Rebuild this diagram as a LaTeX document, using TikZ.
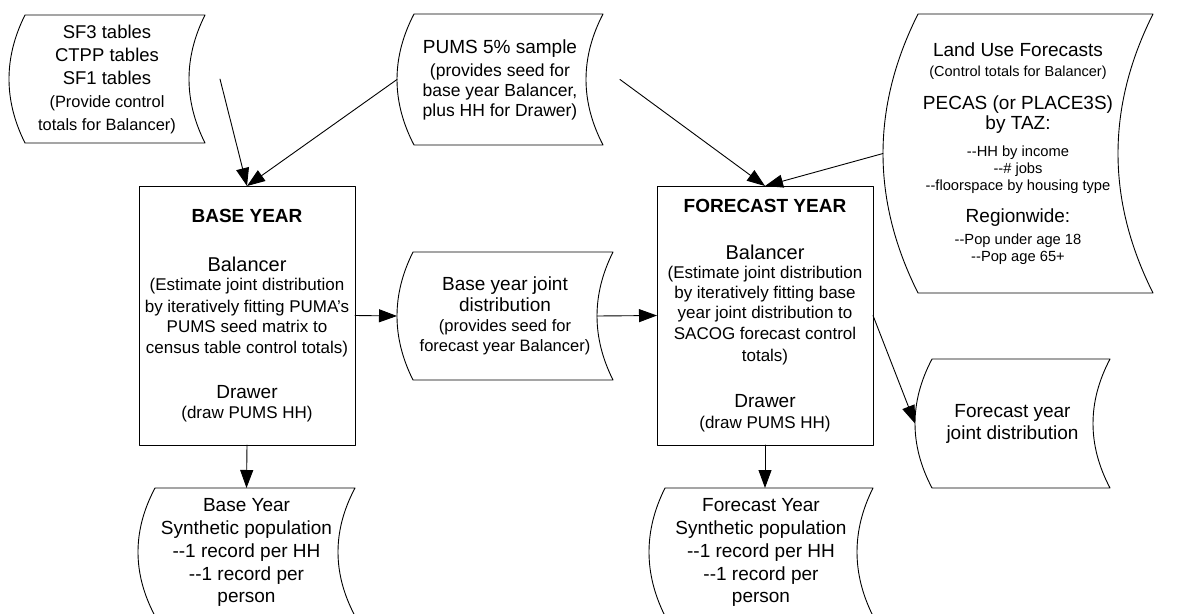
\documentclass[tikz,border=0pt]{standalone}
\usepackage{fontspec}
\usepackage{tikz}
\usetikzlibrary{calc}
\usetikzlibrary{arrows.meta}
\newfontfamily\arialfont{Liberation Sans}
\newcommand{\fs}[1]{\fontsize{#1}{0pt}\selectfont}
% stored data outline round a node: #1 node, #2 bulge of the arcs
\newcommand{\storeddata}[2]{%
  \draw ($(#1.north west)+(#2,0)$) -- (#1.north east)
    .. controls ($(#1.north east)!0.3333!(#1.south east)+(-1.3333*#2,0)$) and ($(#1.north east)!0.6667!(#1.south east)+(-1.3333*#2,0)$) .. (#1.south east)
    -- ($(#1.south west)+(#2,0)$)
    .. controls ($(#1.north west)!0.6667!(#1.south west)+(-0.3333*#2,0)$) and ($(#1.north west)!0.3333!(#1.south west)+(-0.3333*#2,0)$) .. cycle;}
\tikzset{
  every node/.style={font=\arialfont\fs{19}\lineskiplimit-100pt\relax},
  stored/.style={inner sep=0pt, outer sep=0pt, align=center},
  procbox/.style={draw, inner sep=0pt, outer sep=0pt, align=center, minimum width=216pt, minimum height=259pt}
}

\begin{document}
\begin{tikzpicture}[line cap=round,line join=round,>={Triangle[length=18pt,width=13pt]},x=1pt,y=-1pt,line width=0.9pt]
  \useasboundingbox (0,0) rectangle (1177,613);
  \clip (0,0) rectangle (1177,613);
  % sources
  \node[stored, minimum width=196pt, minimum height=128pt] (sf) at (107,79)
    {\fs{18.5}SF3 tables\\[23pt] \fs{18.5}CTPP tables\\[23pt] \fs{18.5}SF1 tables\\[23pt]
     \fs{16.4}(Provide control\\[23pt] \fs{16.4}totals for Balancer)};
  \node[stored, minimum width=206pt, minimum height=131pt] (pums) at (500,79.5)
    {PUMS 5\% sample\\[23pt] \fs{17.5}(provides seed for\\[20pt] \fs{17.5}base year Balancer,\\[20pt]
     \fs{17.5}plus HH for Drawer)};
  \node[stored, minimum width=270pt, minimum height=279pt] (landuse) at (1018,153.5)
    {Land Use Forecasts\\[20pt] \fs{14.5}(Control totals for Balancer)\\[33pt]
     PECAS (or PLACE3S)\\[20pt] by TAZ:\\[27pt]
     \fs{14.7}--HH by income\\[17pt] \fs{14.7}--\# jobs\\[17pt] \fs{14.7}--floorspace by housing type\\[32pt]
     Regionwide:\\[22pt] \fs{14.7}--Pop under age 18\\[17pt] \fs{14.7}--Pop age 65+};
  % processes
  \node[procbox] (base) at (247,315.5)
    {\bfseries BASE YEAR\\[49pt] \fs{20}Balancer\\[19pt] \fs{17}(Estimate joint distribution\\[22pt]
     \fs{17}by iteratively fitting PUMA’s\\[20pt] \fs{17}PUMS seed matrix to\\[21pt]
     \fs{17}census table control totals)\\[45pt] Drawer\\[20pt] \fs{17}(draw PUMS HH)};
  \node[procbox] (fcst) at (765,315.5)
    {\bfseries FORECAST YEAR\\[47pt] \fs{20}Balancer\\[19pt] \fs{17}(Estimate joint distribution\\[20pt]
     \fs{17}by iteratively fitting base\\[20pt] \fs{17}year joint distribution to\\[21pt]
     \fs{17}SACOG forecast control\\[22pt] \fs{17}totals)\\[46pt] Drawer\\[21pt] \fs{17}(draw PUMS HH)};
  % outputs
  \node[stored, minimum width=216pt, minimum height=128pt] (basejd) at (505,316)
    {Base year joint\\[21pt] distribution\\[20pt] \fs{16.5}(provides seed for\\[20pt]
     \fs{16.5}forecast year Balancer)};
  \node[stored, minimum width=195pt, minimum height=129pt] (fcstjd) at (1012.5,423.5)
    {Forecast year\\[22pt] joint distribution};
  \node[stored, minimum width=217pt, minimum height=128pt] (basepop) at (246.5,552)
    {Base Year\\[23pt] Synthetic population\\[23pt] --1 record per HH\\[23pt] --1 record per\\[22pt] person};
  \node[stored, minimum width=224pt, minimum height=128pt] (fcstpop) at (761,552)
    {Forecast Year\\[23pt] Synthetic population\\[23pt] --1 record per HH\\[23pt] --1 record per\\[22pt] person};
  \storeddata{sf}{16}
  \storeddata{pums}{17}
  \storeddata{landuse}{35}
  \storeddata{basejd}{16}
  \storeddata{fcstjd}{17}
  \storeddata{basepop}{17}
  \storeddata{fcstpop}{16}
  % connectors
  \draw[->] ([xshift=15pt]sf.east) -- (base.north);
  \draw[->] (pums.west) -- (base.north);
  \draw[->] ([xshift=17pt]pums.east) -- (fcst.north);
  \draw[->] (landuse.west) -- (fcst.north);
  \draw[->] (base.east) -- (basejd.west);
  \draw[->] ([xshift=-16pt]basejd.east) -- (fcst.west);
  \draw[->] (fcst.east) -- (fcstjd.west);
  \draw[->] (base.south) -- (basepop.north);
  \draw[->] (fcst.south) -- (fcst.south |- fcstpop.north);
\end{tikzpicture}
\end{document}
